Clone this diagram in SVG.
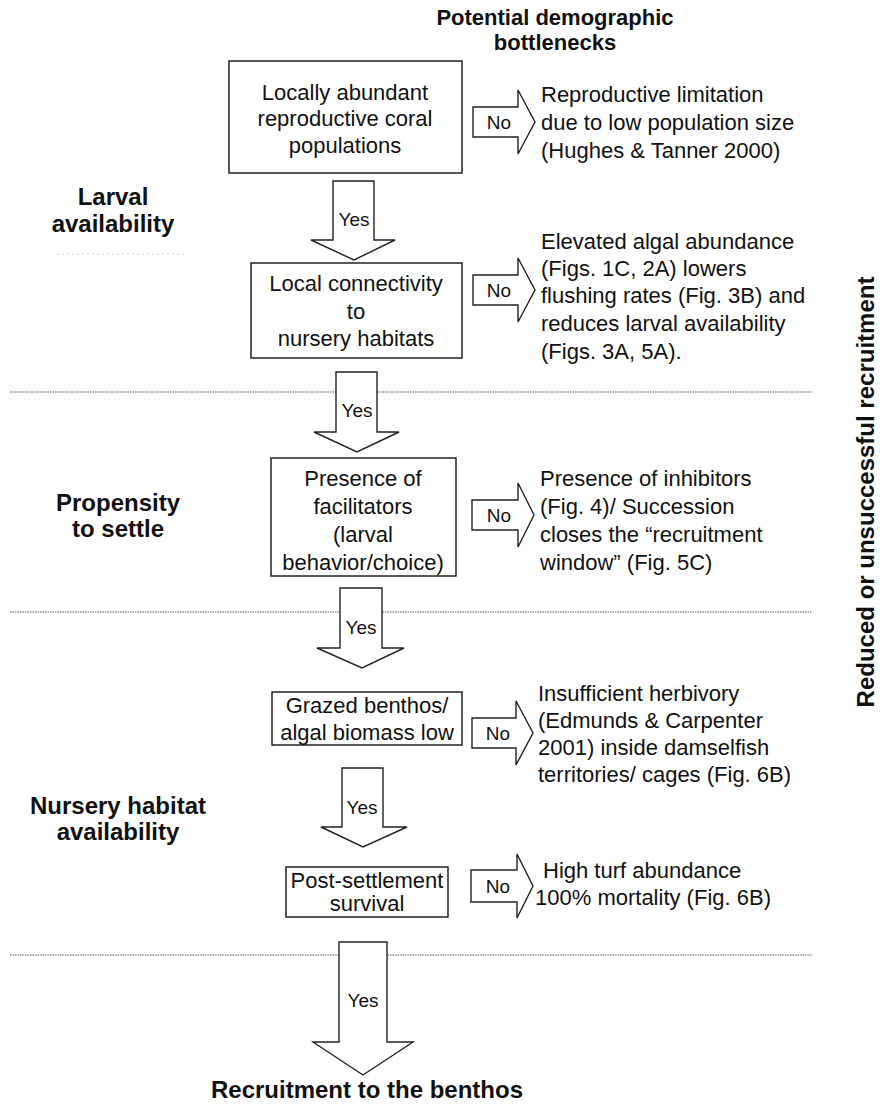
<svg xmlns="http://www.w3.org/2000/svg" width="884" height="1112" viewBox="0 0 884 1112">
<style>
text{font-family:"Liberation Sans",Arial,sans-serif;fill:#111}
.b{font-size:22px;text-anchor:middle}
.r{font-size:22px}
.h{font-size:24px;font-weight:bold;text-anchor:middle}
.t{font-size:22px;font-weight:bold;text-anchor:middle}
.l{font-size:19px;text-anchor:middle}
.box{fill:#fff;stroke:#222;stroke-width:1.5}
.arr{fill:#fff;stroke:#222;stroke-width:1.4;stroke-linejoin:miter}
.sep{stroke:#555;stroke-width:1;stroke-dasharray:1.5 1}
</style>
<rect width="884" height="1112" fill="#fff"/>
<g id="separators">
<line class="sep" x1="10" y1="392" x2="812" y2="392"/>
<line class="sep" x1="10" y1="612" x2="812" y2="612"/>
<line class="sep" x1="10" y1="955" x2="812" y2="955"/>
<line x1="57" y1="254" x2="187" y2="254" stroke="#ccc" stroke-width="1" stroke-dasharray="2 3"/>
</g>
<g id="title">
<text class="t" x="555" y="25">Potential demographic</text>
<text class="t" x="555" y="50">bottlenecks</text>
</g>
<g id="labels">
<text class="h" x="113" y="205">Larval</text>
<text class="h" x="113" y="232">availability</text>
<text class="h" x="118" y="511">Propensity</text>
<text class="h" x="118" y="537">to settle</text>
<text class="h" x="118" y="814">Nursery habitat</text>
<text class="h" x="118" y="840">availability</text>
<text class="h" transform="translate(874,492) rotate(-90)">Reduced or unsuccessful recruitment</text>
</g>
<g id="connectors">
<path class="arr" d="M333,181H374V240H395L354,260L311,240H333Z"/>
<text class="l" x="354" y="226">Yes</text>
<path class="arr" d="M336,372H377V432H399L357,452L314,432H336Z"/>
<text class="l" x="357" y="417">Yes</text>
<path class="arr" d="M340,588H382V648H404L362,668L317,648H340Z"/>
<text class="l" x="361" y="634">Yes</text>
<path class="arr" d="M342,768H383V827H407L363,847L321,827H342Z"/>
<text class="l" x="362" y="814">Yes</text>
<path class="arr" d="M339,942H387V1042H413L363,1075L313,1042H339Z"/>
<text class="l" x="363" y="1007">Yes</text>
<path class="arr" d="M473,107H518V90L535,122L518,154V137H473Z"/>
<text class="l" x="499" y="129">No</text>
<path class="arr" d="M473,275H518V258L535,290L518,322V305H473Z"/>
<text class="l" x="499" y="297">No</text>
<path class="arr" d="M472,500H518V483L534,515L518,547V530H472Z"/>
<text class="l" x="499" y="522">No</text>
<path class="arr" d="M472,718H516V701L533,733L516,765V748H472Z"/>
<text class="l" x="498" y="740">No</text>
<path class="arr" d="M471,870H517V854L533,886L517,918V902H471Z"/>
<text class="l" x="498" y="893">No</text>
</g>
<g id="n1">
<rect class="box" x="229" y="61" width="233" height="112"/>
<text class="b" x="345" y="100">Locally abundant</text>
<text class="b" x="345" y="126">reproductive coral</text>
<text class="b" x="345" y="153">populations</text>
</g>
<g id="n1-out">
<text class="r" x="541" y="102">Reproductive limitation</text>
<text class="r" x="541" y="130">due to low population size</text>
<text class="r" x="541" y="158">(Hughes &amp; Tanner 2000)</text>
</g>
<g id="n2">
<rect class="box" x="251" y="263" width="211" height="95"/>
<text class="b" x="356" y="291">Local connectivity</text>
<text class="b" x="356" y="319">to</text>
<text class="b" x="356" y="346">nursery habitats</text>
</g>
<g id="n2-out">
<text class="r" x="541" y="249">Elevated algal abundance</text>
<text class="r" x="541" y="276">(Figs. 1C, 2A) lowers</text>
<text class="r" x="541" y="303">flushing rates (Fig. 3B) and</text>
<text class="r" x="541" y="331">reduces larval availability</text>
<text class="r" x="541" y="359">(Figs. 3A, 5A).</text>
</g>
<g id="n3">
<rect class="box" x="271" y="458" width="185" height="118"/>
<text class="b" x="363" y="486">Presence of</text>
<text class="b" x="363" y="514">facilitators</text>
<text class="b" x="363" y="542">(larval</text>
<text class="b" x="363" y="570">behavior/choice)</text>
</g>
<g id="n3-out">
<text class="r" x="540" y="486">Presence of inhibitors</text>
<text class="r" x="540" y="514">(Fig. 4)/ Succession</text>
<text class="r" x="540" y="542">closes the “recruitment</text>
<text class="r" x="540" y="570">window” (Fig. 5C)</text>
</g>
<g id="n4">
<rect class="box" x="272" y="692" width="190" height="53"/>
<text class="b" x="367" y="713">Grazed benthos/</text>
<text class="b" x="367" y="740">algal biomass low</text>
</g>
<g id="n4-out">
<text class="r" x="538" y="701">Insufficient herbivory</text>
<text class="r" x="538" y="728">(Edmunds &amp; Carpenter</text>
<text class="r" x="538" y="755">2001) inside damselfish</text>
<text class="r" x="538" y="782">territories/ cages (Fig. 6B)</text>
</g>
<g id="n5">
<rect class="box" x="286" y="867" width="162" height="50"/>
<text class="b" x="367" y="888">Post-settlement</text>
<text class="b" x="367" y="911">survival</text>
</g>
<g id="n5-out">
<text class="r" x="543" y="878">High turf abundance</text>
<text class="r" x="535" y="905">100% mortality (Fig. 6B)</text>
</g>
<g id="end">
<text class="h" x="367" y="1098">Recruitment to the benthos</text>
</g>
</svg>
